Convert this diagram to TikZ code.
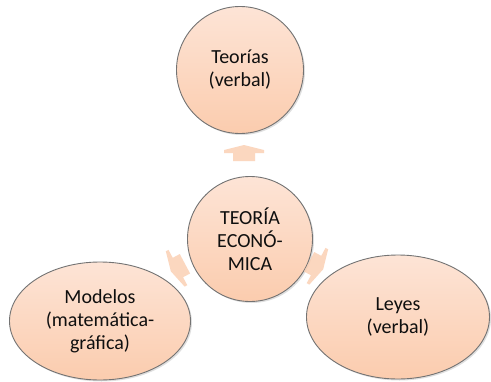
\documentclass[tikz,border=0pt]{standalone}
\usepackage{fontspec}
\setmainfont{Carlito}
\usetikzlibrary{shapes.geometric,shadows}
\definecolor{bubtop}{RGB}{253,228,214}
\definecolor{bubbot}{RGB}{251,204,174}
\definecolor{bubedge}{RGB}{115,115,115}
\definecolor{arrfill}{RGB}{251,205,175}
\definecolor{txt}{RGB}{15,15,15}
\tikzset{
  bubble/.style={draw=bubedge, line width=0.9pt, top color=bubtop, bottom color=bubbot,
    text=txt, align=center, font=\fontsize{20}{23}\selectfont, inner sep=0pt,
    drop shadow={shadow xshift=1.5pt, shadow yshift=-1.5pt, opacity=0.25}},
  circbub/.style={bubble, circle, minimum size=127pt},
  ellbub/.style={bubble, ellipse},
  pfeil/.style={fill=arrfill, draw=none, opacity=0.8},
}
\begin{document}
\begin{tikzpicture}[x=1pt,y=-1pt]
\useasboundingbox (0,0) rectangle (491,381);
\fill[white] (0,0) rectangle (491,381);
\node[circbub] (top) at (240,70) {Teorías\\(verbal)};
\node[circbub, minimum size=125pt] (mid) at (250,239) {TEORÍA\\ECONÓ-\\MICA};
\node[ellbub, minimum width=181pt, minimum height=118pt] (mod) at (100,321) {Modelos\\(matemática-\\gráfica)};
\node[ellbub, minimum width=183pt, minimum height=124pt] (ley) at (398,317) {Leyes\\(verbal)};
% arrows
\coordinate (at) at (244,152);
\coordinate (al) at (177,268);
\coordinate (ar) at (317,266);
\foreach \c/\r in {at/90, al/208, ar/-28}{
  \begin{scope}[shift={(\c)}, rotate=\r, y=1pt]
    \fill[pfeil] (-9,-11) -- (-1,-11) -- (-1,-20) -- (2,-20) -- (7,0) -- (2,20) -- (-1,20) -- (-1,11) -- (-9,11) -- cycle;
  \end{scope}
}
\end{tikzpicture}
\end{document}
